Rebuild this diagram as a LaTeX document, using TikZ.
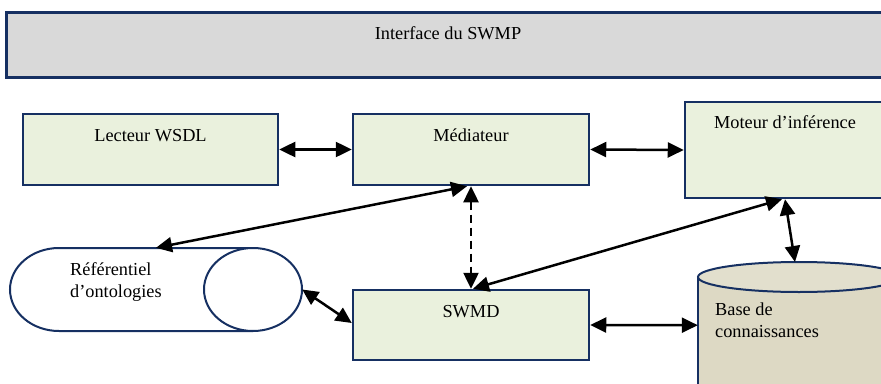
\documentclass[tikz,border=0pt]{standalone}
\usepackage{fontspec}
\setmainfont{Liberation Serif}
\usetikzlibrary{arrows.meta}

\definecolor{navy}{RGB}{22,48,98}
\definecolor{boxgreen}{RGB}{234,241,221}
\definecolor{dbtan}{RGB}{221,217,196}
\definecolor{bargray}{RGB}{217,217,217}

\tikzset{
  box/.style={draw=navy, fill=boxgreen, line width=2.5pt, inner sep=0},
  boxtitle/.style={anchor=north, inner sep=0, yshift=-16pt},
  store/.style={draw=navy, line width=2pt},
  link/.style={{Triangle[length=16pt,width=15pt]}-{Triangle[length=16pt,width=15pt]}, line width=2.5pt},
}

\begin{document}
\begin{tikzpicture}[x=1pt, y=-1pt, font=\fontsize{18.3}{22}\selectfont]
  \useasboundingbox (0,0) rectangle (881,383);
  \clip (0,0) rectangle (881,383);

  % Interface bar
  \node[box, fill=bargray, line width=3pt, minimum width=884, minimum height=65,
        label={[boxtitle]north:Interface du SWMP}] (ui) at (448,44.5) {};

  % Components
  \node[box, minimum width=255, minimum height=71,
        label={[boxtitle]north:Lecteur WSDL}] (lect) at (150.5,149.5) {};
  \node[box, minimum width=236, minimum height=71,
        label={[boxtitle]north:Médiateur}] (med) at (471,149.5) {};
  \node[box, minimum width=200, minimum height=96,
        label={[boxtitle, yshift=1pt]north:Moteur d’inférence}] (mot) at (785,150) {};
  \node[box, minimum width=236, minimum height=70,
        label={[boxtitle]north:SWMD}] (swmd) at (471,325) {};

  % Ontology repository (horizontal cylinder)
  \node[minimum width=292, minimum height=83, inner sep=0] (ref) at (156,289.5) {};
  \draw[store, fill=white] (253,248) -- (59,248)
    arc[start angle=270, end angle=90, x radius=49, y radius=41.5] -- (253,331);
  \draw[store, fill=white] (253,289.5) ellipse[x radius=49, y radius=41.5];
  \node[anchor=base west, align=left, inner sep=0] (reftext) at (70,297) {Référentiel\\d’ontologies};

  % Knowledge base (vertical cylinder)
  \node[minimum width=202, minimum height=126, inner sep=0, anchor=north] (base) at (799,262) {};
  \fill[dbtan] (698,277) rectangle (900,400);
  \draw[store] (698,277) -- (698,400) (900,277) -- (900,400);
  \draw[store, fill=dbtan!85!white] (799,277) ellipse[x radius=101, y radius=15];
  \node[anchor=base west, align=left, inner sep=0] (basetext) at (715,337) {Base de\\connaissances};

  % Links
  \draw[link] (lect.east) -- (med.west);
  \draw[link] (med.east) -- (mot.west);
  \draw[link] ([xshift=-4pt]med.south) -- (ref.north);
  \draw[link, dash pattern=on 8pt off 5pt] (med.south) -- (swmd.north);
  \draw[link] ([xshift=2pt]swmd.north) -- ([xshift=-3pt]mot.south);
  \draw[link] (mot.south) -- ([xshift=-4pt]base.north);
  \draw[link] (ref.east) -- ([yshift=2pt]swmd.west);
  \draw[link] (swmd.east) -- (base.west);
\end{tikzpicture}
\end{document}
